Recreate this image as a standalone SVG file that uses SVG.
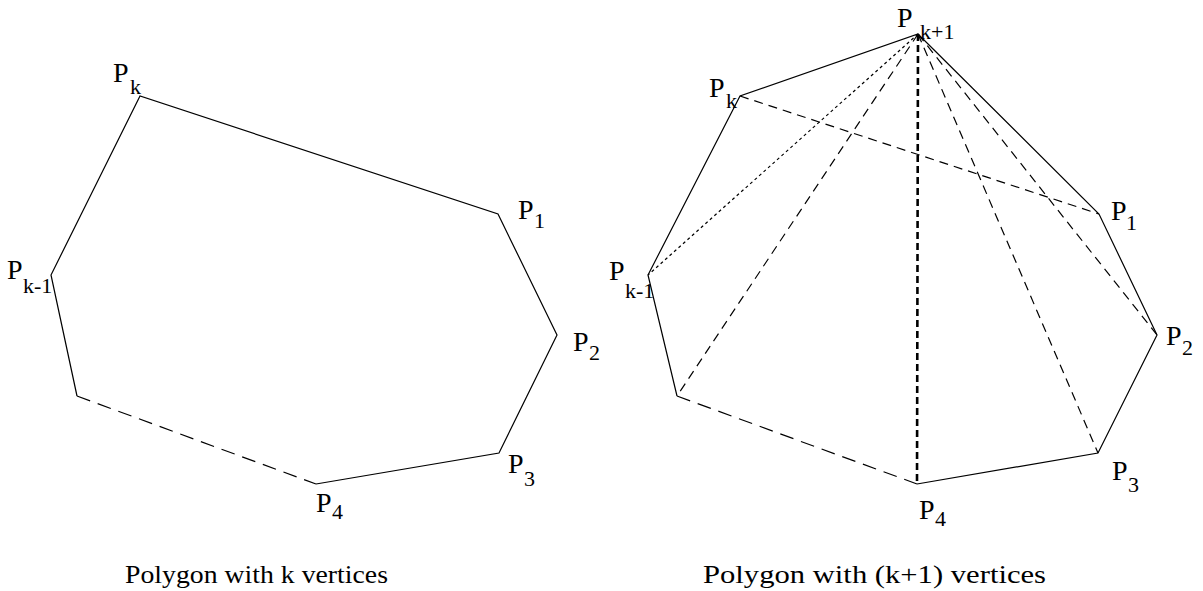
<svg xmlns="http://www.w3.org/2000/svg" width="1203" height="591" viewBox="0 0 1203 591">
<style>
.s{fill:none;stroke:#000;stroke-width:1.2}
.ld{stroke-dasharray:14 8}
.md{stroke-dasharray:9 6}
.dt{stroke-dasharray:3 3}
.tk{stroke-width:2.6;stroke-dasharray:7 4}
.p{font-size:28px}
.sub{font-size:22px}
.cap{font-size:25px}
</style>
<rect width="1203" height="591" fill="#fff"/>
<g id="connectors">
<polyline class="s" points="77,396 51,275 140,96 498,214 557,335 499,453 316,484"/>
<line class="s ld" x1="77" y1="396" x2="316" y2="484"/>
<polyline class="s" points="677,396 648,275 740,96 918,34 1099,214 1157,335 1098,453 917,484"/>
<line class="s ld" x1="677" y1="396" x2="917" y2="484"/>
<line class="s md" x1="740" y1="96" x2="1099" y2="214"/>
<line class="s dt" x1="918" y1="34" x2="648" y2="275"/>
<line class="s md" x1="918" y1="34" x2="677" y2="396"/>
<line class="s tk" x1="918" y1="34" x2="917" y2="484"/>
<line class="s md" x1="918" y1="34" x2="1098" y2="453"/>
<line class="s md" x1="918" y1="34" x2="1157" y2="335"/>
</g>
<g font-family="Liberation Serif, serif" fill="#000">
<g id="left-labels">
<g id="L-Pk"><text class="p" x="113" y="82">P</text><text class="sub" x="130" y="94">k</text></g>
<g id="L-P1"><text class="p" x="518" y="219">P</text><text class="sub" x="534" y="228">1</text></g>
<g id="L-P2"><text class="p" x="573" y="351">P</text><text class="sub" x="589" y="360">2</text></g>
<g id="L-P3"><text class="p" x="508" y="473">P</text><text class="sub" x="524" y="486">3</text></g>
<g id="L-P4"><text class="p" x="316" y="512">P</text><text class="sub" x="332" y="519">4</text></g>
<g id="L-Pk-1"><text class="p" x="7" y="279">P</text><text class="sub" x="23" y="293">k-1</text></g>
</g>
<g id="right-labels">
<g id="R-Pk1"><text class="p" x="897" y="27">P</text><text class="sub" x="920" y="39">k+1</text></g>
<g id="R-Pk"><text class="p" x="709" y="97">P</text><text class="sub" x="726" y="108">k</text></g>
<g id="R-P1"><text class="p" x="1111" y="220">P</text><text class="sub" x="1126" y="230">1</text></g>
<g id="R-P2"><text class="p" x="1166" y="345">P</text><text class="sub" x="1182" y="355">2</text></g>
<g id="R-P3"><text class="p" x="1112" y="480">P</text><text class="sub" x="1128" y="492">3</text></g>
<g id="R-P4"><text class="p" x="919" y="519">P</text><text class="sub" x="935" y="526">4</text></g>
<g id="R-Pk-1"><text class="p" x="609" y="280">P</text><text class="sub" x="625" y="298">k-1</text></g>
</g>
<g id="captions">
<text class="cap" x="125" y="583" textLength="263" lengthAdjust="spacingAndGlyphs">Polygon with k vertices</text>
<text class="cap" x="703" y="583" textLength="343" lengthAdjust="spacingAndGlyphs">Polygon with (k+1) vertices</text>
</g>
</g>
</svg>
